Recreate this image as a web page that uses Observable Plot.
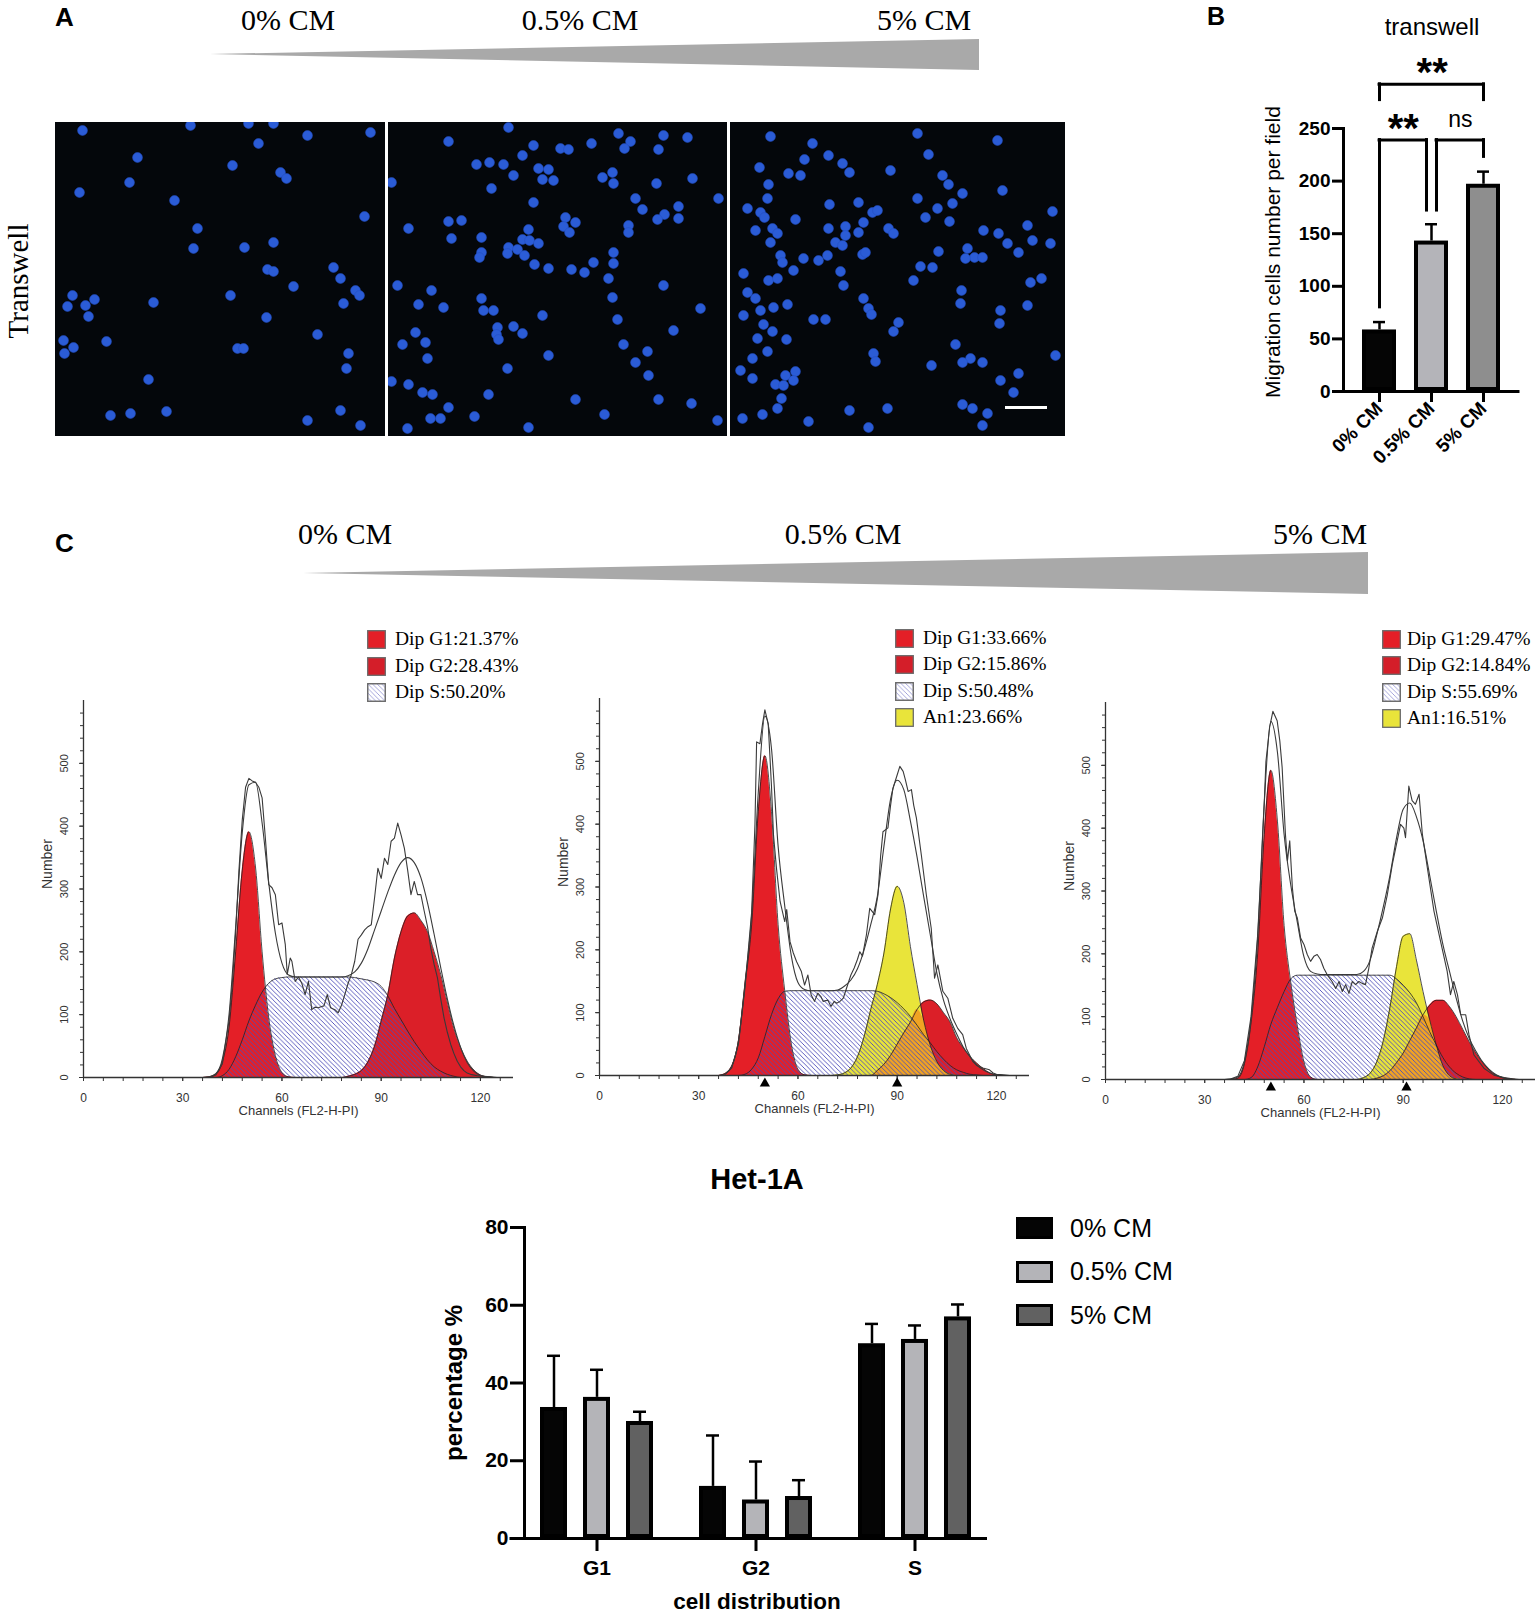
<!DOCTYPE html>
<html><head><meta charset="utf-8">
<script src="https://cdn.jsdelivr.net/npm/d3@7"></script>
<script src="https://cdn.jsdelivr.net/npm/@observablehq/plot@0.6"></script>
<style>
html,body{margin:0;padding:0;background:#fff;}
#fig{position:relative;width:1535px;height:1615px;overflow:hidden;background:#fff;}
.tri{position:absolute;background:#a9a9a9;}
</style></head><body>
<svg width="0" height="0" style="position:absolute">
<defs>
<pattern id="hatchS" patternUnits="userSpaceOnUse" width="4.6" height="4.6">
<path d="M-1,-1 L5.6,5.6 M-1,3.6 L1,5.6 M3.6,-1 L5.6,1" stroke="#4d4db8" stroke-width="0.9" fill="none"/>
</pattern>
</defs></svg>
<div id="fig"></div>
<script>
// ---------------- DATA ----------------
// Panel A: nucleus centroids in each transwell field (field units)
const cells0 = [[27,8],[135,3],[193,1],[218,1],[252,13],[315,10],[203,21],[82,35],[177,43],[225,50],[231,56],[74,60],[24,70],[119,78],[309,94],[142,106],[138,126],[189,125],[218,120],[212,147],[218,149],[278,145],[238,164],[285,156],[300,168],[304,173],[288,181],[175,173],[17,173],[12,184],[30,183],[39,177],[33,194],[98,180],[211,195],[262,212],[8,218],[18,225],[9,231],[51,219],[182,226],[188,226],[293,231],[291,246],[93,257],[55,293],[75,291],[111,289],[285,288],[252,298],[305,303]];
const cells05 = [[120,5],[60,19],[145,23],[172,26],[180,27],[203,21],[230,11],[242,19],[236,26],[275,13],[299,15],[270,27],[88,42],[101,40],[115,42],[134,33],[125,53],[150,46],[160,47],[154,57],[165,58],[224,50],[214,55],[225,61],[3,60],[103,66],[304,56],[268,61],[145,80],[247,76],[254,87],[290,84],[276,92],[290,96],[269,97],[60,99],[73,98],[20,106],[177,95],[187,100],[175,104],[181,110],[240,103],[240,110],[140,107],[134,117],[141,118],[63,116],[93,115],[150,121],[120,125],[129,127],[136,133],[119,131],[93,130],[91,135],[225,130],[225,141],[205,140],[146,142],[160,146],[183,147],[196,150],[220,156],[224,175],[275,163],[9,163],[43,168],[30,182],[55,185],[93,176],[95,188],[105,188],[154,193],[229,197],[312,186],[27,210],[109,205],[108,212],[125,204],[134,211],[110,217],[285,208],[14,222],[37,220],[235,222],[259,229],[39,236],[160,233],[247,240],[119,246],[260,253],[3,259],[20,262],[34,270],[44,272],[60,285],[100,272],[187,277],[270,277],[303,281],[42,296],[52,296],[86,294],[140,305],[216,292],[19,306],[330,76],[329,298]];
const cells5 = [[40,14],[82,21],[98,33],[74,37],[112,41],[119,50],[29,45],[58,51],[70,53],[187,11],[198,32],[160,48],[212,53],[218,62],[267,18],[272,68],[232,71],[38,62],[37,76],[17,86],[30,90],[34,95],[65,97],[187,76],[207,86],[222,81],[195,95],[219,99],[128,80],[142,90],[147,88],[99,82],[25,108],[42,106],[47,111],[40,120],[98,106],[115,104],[115,113],[105,120],[128,110],[133,100],[158,106],[163,111],[50,133],[52,140],[63,148],[73,136],[88,138],[97,133],[112,123],[132,132],[135,130],[110,149],[13,151],[38,158],[47,156],[17,170],[25,176],[113,163],[133,176],[208,129],[190,144],[202,145],[183,158],[237,126],[244,135],[252,135],[235,136],[253,108],[268,111],[277,121],[288,130],[297,103],[302,118],[300,160],[297,183],[231,168],[230,181],[270,188],[269,201],[13,193],[30,188],[43,185],[57,182],[33,202],[42,209],[27,216],[56,217],[37,229],[22,236],[83,197],[95,197],[138,186],[141,192],[168,200],[163,209],[143,231],[145,239],[10,248],[22,256],[45,262],[53,263],[65,249],[55,253],[63,258],[51,276],[47,286],[225,222],[240,236],[252,240],[232,240],[201,243],[270,258],[288,251],[283,270],[157,286],[119,288],[78,299],[138,305],[12,296],[32,292],[232,282],[242,286],[257,291],[252,303],[322,89],[320,121],[325,233],[311,156]];
const scaleBar = [{x1: 275, x2: 317, y: 285}];

// Panel B: transwell migration counts
const bCats = ["0% CM", "0.5% CM", "5% CM"];
const bMeans = [58.5, 143, 197];
const bErrUpper = [66, 159, 209];
const bYTicks = [0, 50, 100, 150, 200, 250];
const sigFrom = ["0% CM", "0% CM", "0.5% CM"];
const sigTo = ["5% CM", "0.5% CM", "5% CM"];
const sigLevel = [292, 239, 239];
const sigLegFrom = [277, 80, 172];
const sigLegTo = [277, 172, 223];
const sigText = ["**", "**", "ns"];

// Panel C: flow cytometry histograms (channel grid)
const histChannels = [36,38,40,42,44,46,48,50,52,54,56,58,60,62,64,66,68,70,72,74,76,78,80,82,84,86,88,90,92,94,96,98,100,102,104,106,108,110,112,114,116,118,120,122,124];
const h1G1 = [0,1,5,25,80,200,330,391,335,200,95,35,8,1,0,0,0,0,0,0,0,0,0,0,0,0,0,0,0,0,0,0,0,0,0,0,0,0,0,0,0,0,0,0,0];
const h1S  = [0,0,0,3,13,33,60,90,115,136,150,157,159,160,160,160,160,160,160,160,160,160,160,159,157,155,152,145,130,110,92,74,57,42,28,17,10,5,2,0,0,0,0,0,0];
const h1G2 = [0,0,0,0,0,0,0,0,0,0,0,0,0,0,0,0,0,0,0,0,0,0,2,5,11,25,50,90,132,190,232,257,262,250,232,200,164,120,78,48,26,12,4,1,0];
const h1Env = [0,1,6,30,100,240,390,466,470,405,310,230,182,163,160,160,160,160,160,160,160,160,162,168,182,205,235,265,295,322,342,350,342,318,278,228,175,125,82,48,24,10,3,1,0];
const h1Raw = [[38,0],[40,4],[42,22],[44,90],[45,150],[46,230],[47,330],[48,410],[49,462],[50,476],[51,472],[52,470],[53,462],[54,445],[55,380],[56,307],[57,302],[58,291],[59,243],[60,246],[61,212],[61.6,164],[62.5,190],[63,185],[64,153],[65,160],[66,150],[67,132],[68,153],[69,108],[70,112],[71,111],[72,113],[72.7,114],[73.7,132],[74.7,111],[76,108],[77,103],[78,115],[79,132],[80,150],[81,164],[82,185],[83,220],[84,227],[85,235],[86,240],[87,243],[88,286],[89,333],[90,317],[91,349],[92,339],[93,376],[94,381],[95,405],[96,386],[97,365],[98,330],[99,291],[100,312],[101,291],[102,291],[103,265],[104,240],[105,206],[106,180],[107,159],[108,125],[109,95],[110,72],[111,53],[112,38],[113,26],[114,17],[115,11],[116,7],[117,5],[119,3],[121,2],[123,1],[125,0]];

const h2G1 = [0,3,15,55,145,240,420,509,420,240,135,50,10,1,0,0,0,0,0,0,0,0,0,0,0,0,0,0,0,0,0,0,0,0,0,0,0,0,0,0,0,0,0,0,0];
const h2S  = [0,0,0,0,2,10,28,62,97,122,134,135,135,135,135,135,135,135,135,135,135,135,135,135,134,130,124,116,106,94,80,65,52,38,26,16,9,5,2,1,0,0,0,0,0];
const h2An = [0,0,0,0,0,0,0,0,0,0,0,0,0,0,0,0,0,0,1,4,12,30,62,105,145,195,265,301,275,205,145,88,48,22,8,2,0,0,0,0,0,0,0,0,0];
const h2G2 = [0,0,0,0,0,0,0,0,0,0,0,0,0,0,0,0,0,0,0,0,0,0,0,0,8,18,32,50,68,85,105,117,120,114,100,85,60,44,30,20,11,4,1,0,0];
const h2Env = [0,3,15,55,148,255,450,572,520,365,270,190,148,137,135,135,135,135,136,142,152,170,200,240,285,365,440,470,455,405,348,285,224,163,120,90,66,45,30,17,9,4,1,0,0];
const h2Raw = [[38,2],[40,12],[42,50],[44,140],[46,260],[47,400],[47.5,531],[48.5,528],[49.3,560],[50,582],[51,560],[52,460],[52.6,383],[53.5,330],[54.6,277],[56,245],[56.6,264],[57.6,213],[58.6,195],[59.6,181],[61,166],[62,144],[63,160],[64,128],[65,118],[66,131],[67,125],[67.6,118],[69,120],[70,110],[71,118],[71.7,115],[72.7,118],[73.7,123],[75,144],[76,160],[77,171],[78,185],[78.7,197],[79.5,190],[80.7,224],[81.7,266],[83.2,256],[84.2,288],[85,350],[85.7,388],[87.2,394],[88,430],[88.7,457],[89.8,475],[90.8,492],[91.8,484],[92.5,470],[93.3,452],[94.3,455],[95,430],[95.8,410],[97.3,351],[98.8,288],[100.3,234],[101.3,155],[102.3,176],[103.8,134],[105.3,123],[106.8,91],[108.3,75],[109.8,65],[110.9,43],[112.9,22],[114,16],[115.9,12],[117.9,9],[119,4],[120,2],[122,1],[124,0]];

const h3G1 = [0,0,2,25,90,200,390,492,410,245,155,85,28,4,0,0,0,0,0,0,0,0,0,0,0,0,0,0,0,0,0,0,0,0,0,0,0,0,0,0,0,0,0,0,0];
const h3S  = [0,0,0,0,3,20,52,88,115,140,160,166,166,166,166,166,166,166,166,166,166,166,166,166,166,166,160,150,138,122,100,76,55,35,20,10,4,1,0,0,0,0,0,0,0];
const h3An = [0,0,0,0,0,0,0,0,0,0,0,0,0,0,0,0,0,0,0,0,0,3,10,28,62,115,180,228,232,190,140,95,55,22,6,1,0,0,0,0,0,0,0,0,0];
const h3G2 = [0,0,0,0,0,0,0,0,0,0,0,0,0,0,0,0,0,0,0,0,0,0,0,2,6,14,27,42,62,82,103,118,126,126,116,100,80,60,42,27,15,7,3,1,0];
const h3Env = [0,1,4,28,95,225,440,570,520,390,310,250,195,172,168,167,167,167,167,167,167,172,190,230,275,325,385,430,440,418,380,325,268,215,172,130,93,65,45,28,16,8,3,1,0];
const h3Raw = [[38,1],[40,5],[42,30],[44,100],[46,230],[47,330],[48,440],[48.5,506],[49,530],[49.6,560],[50.6,586],[51.9,571],[52.7,539],[53.4,497],[54.4,390],[55,348],[55.7,380],[56.5,305],[57.2,268],[58,257],[59,225],[60,215],[61,199],[62,188],[63,196],[64,199],[65,191],[66,177],[67,167],[68.5,156],[69.6,145],[70.6,156],[71.6,140],[72.6,151],[73.6,137],[74.6,156],[75.6,151],[76.6,156],[77.6,153],[78.6,151],[79.6,177],[80.6,209],[82.2,236],[83.7,257],[85.2,294],[86.7,342],[88.2,380],[89.2,406],[90.2,400],[90.7,385],[91.7,467],[92.7,444],[93.7,438],[94.8,454],[95.8,390],[97.3,337],[99.3,268],[101.3,220],[103.3,172],[104.3,135],[105.3,156],[106.4,135],[107.4,103],[108.9,103],[109.9,71],[111.4,39],[114.4,18],[117.4,7],[120.5,3],[123,1],[125,0]];
const h2Peaks = [50, 90];
const h3Peaks = [50, 91];
const h1Legend = ["Dip G1:21.37%", "Dip G2:28.43%", "Dip S:50.20%"];
const h2Legend = ["Dip G1:33.66%", "Dip G2:15.86%", "Dip S:50.48%", "An1:23.66%"];
const h3Legend = ["Dip G1:29.47%", "Dip G2:14.84%", "Dip S:55.69%", "An1:16.51%"];
const histYTicks = [0, 100, 200, 300, 400, 500];
const histXTicks = [0, 30, 60, 90, 120];

// Het-1A cell-cycle distribution
const phases = ["G1", "G2", "S"];
const conditions = ["0% CM", "0.5% CM", "5% CM"];
const mean0 = [33.7, 13.4, 50.1];
const mean05 = [36.3, 9.9, 51.2];
const mean5 = [30.1, 10.8, 57.0];
const err0 = [47.0, 26.5, 55.2];
const err05 = [43.4, 19.8, 54.8];
const err5 = [32.6, 15.0, 60.2];
const pctTicks = [0, 20, 40, 60, 80];

// ---------------- HELPERS ----------------
const SANS = '"Liberation Sans", Arial, Helvetica, sans-serif';
const SERIF = '"Liberation Serif", "Times New Roman", Times, serif';
const fig = document.getElementById("fig");
function place(el, left, top) {
  el.style.position = "absolute";
  el.style.left = left + "px";
  el.style.top = top + "px";
  fig.appendChild(el);
  return el;
}
function label(s, x, y, o = {}) {
  const d = document.createElement("div");
  const size = o.size || 16;
  d.textContent = s;
  d.style.cssText = `position:absolute;white-space:nowrap;line-height:${o.lh || 1};font-size:${size}px;font-family:${o.family || SANS};font-weight:${o.weight || "normal"};color:${o.color || "#000"};`;
  d.style.left = x + "px";
  if (o.rotate) {
    d.style.top = y + "px";
    d.style.transform = `translate(-50%,-50%) rotate(${o.rotate}deg)`;
  } else {
    const asc = (o.family === SERIF ? 0.84 : 0.85) * size - (1 - (o.lh || 1)) * size / 2;
    d.style.top = (y - asc) + "px";
    const tx = o.anchor === "middle" ? "-50%" : o.anchor === "end" ? "-100%" : "0";
    d.style.transform = `translateX(${tx})`;
  }
  fig.appendChild(d);
  return d;
}
function triangle(left, top, w, h, tipY) {
  const d = document.createElement("div");
  d.className = "tri";
  d.style.width = w + "px"; d.style.height = h + "px";
  d.style.clipPath = `polygon(0px ${tipY}px, ${w}px 0px, ${w}px ${h}px)`;
  return place(d, left, top);
}

// ---------------- PANEL A ----------------
label("A", 55, 26, {size: 26, weight: "bold"});
label("0% CM", 288, 30, {size: 30, family: SERIF, anchor: "middle"});
label("0.5% CM", 580, 30, {size: 30, family: SERIF, anchor: "middle"});
label("5% CM", 924, 30, {size: 30, family: SERIF, anchor: "middle"});
triangle(210, 39, 769, 31, 15);
label("Transwell", 18, 281, {size: 29, family: SERIF, rotate: -90, lh: 0.9});

function field(cells, w, h, extra = []) {
  return Plot.plot({
    width: w, height: h, margin: 0,
    style: {background: "#04070b", overflow: "hidden"},
    x: {domain: [0, w], axis: null},
    y: {domain: [0, h], reverse: true, axis: null},
    marks: [
      Plot.dot(cells, {x: d => d[0], y: d => d[1], r: 4.9, fill: "#2b5cd6", stroke: "#234fc2", strokeWidth: 0.6}),
      ...extra
    ]
  });
}
place(field(cells0, 330, 314), 55, 122);
place(field(cells05, 339, 314), 388, 122);
place(field(cells5, 335, 314, [Plot.ruleY(scaleBar, {y: "y", x1: "x1", x2: "x2", stroke: "#fff", strokeWidth: 3})]), 730, 122);

// ---------------- PANEL B ----------------
label("B", 1207, 25, {size: 25, weight: "bold"});
label("transwell", 1432, 35, {size: 24, anchor: "middle"});
label("Migration cells number per field", 1272, 252, {size: 21, rotate: -90});
{
  const bData = bCats.map((c, i) => ({cat: c, mean: bMeans[i], err: bErrUpper[i]}));
  const mL = 100, mR = 15.5, W = 292, pad = 0.352;
  const frameW = W - mL - mR;
  const step = frameW / (bCats.length - pad + 2 * pad);
  const half = step * (1 - pad) / 2;
  const gap = 5;
  const bracketMarks = [];
  sigText.forEach((t, i) => {
    const a = bCats.indexOf(sigFrom[i]), b = bCats.indexOf(sigTo[i]);
    const offFrom = sigFrom[i] === "0.5% CM" ? gap : 0;
    const offTo = sigTo[i] === "0.5% CM" ? -gap : 0;
    const row = {from: sigFrom[i], to: sigTo[i], level: sigLevel[i], lo1: sigLegFrom[i], lo2: sigLegTo[i], t};
    bracketMarks.push(
      Plot.ruleY([row], {x1: "from", x2: "to", y: "level", strokeWidth: 3, strokeLinecap: "square", insetLeft: half + offFrom, insetRight: half - offTo}),
      Plot.ruleX([row], {x: "from", y1: "lo1", y2: "level", strokeWidth: 3, strokeLinecap: "square", dx: offFrom}),
      Plot.ruleX([row], {x: "to", y1: "lo2", y2: "level", strokeWidth: 3, strokeLinecap: "square", dx: offTo}),
      Plot.text([row], {x: "from", y: "level", text: "t", lineAnchor: "bottom",
        dx: ((b - a) * step + offTo - offFrom) / 2 + offFrom,
        dy: t === "ns" ? -13 : 2,
        fontSize: t === "ns" ? 23 : 40, fontWeight: t === "ns" ? "normal" : "bold"})
    );
  });
  const bPlot = Plot.plot({
    width: W, height: 470, marginLeft: mL, marginRight: mR, marginTop: 128, marginBottom: 79,
    style: {fontFamily: SANS, overflow: "visible", background: "transparent"},
    x: {domain: bCats, padding: pad, axis: null},
    y: {domain: [0, 250], axis: null},
    color: {domain: bCats, range: ["#050505", "#b4b4b9", "#8e8e8e"]},
    marks: [
      Plot.barY(bData, {x: "cat", y1: () => 0, y2: "mean", fill: "cat", stroke: "#000", strokeWidth: 4, inset: 2}),
      Plot.ruleX(bData, {x: "cat", y1: "mean", y2: "err", strokeWidth: 2.5}),
      Plot.tickY(bData, {x: "cat", y: "err", strokeWidth: 2.5, inset: 11}),
      Plot.ruleY([0], {strokeWidth: 3}),
      Plot.frame({anchor: "left", strokeWidth: 3}),
      Plot.axisY({ticks: bYTicks, tickSize: 11, tickPadding: 2, strokeWidth: 3, fontSize: 19, fontWeight: "bold", label: null}),
      Plot.axisX({tickSize: 11, tickPadding: 3, strokeWidth: 3, tickRotate: -45, fontSize: 19, fontWeight: "bold", label: null}),
      ...bracketMarks
    ]
  });
  place(bPlot, 1343 - mL, 0);
}

// ---------------- PANEL C ----------------
label("C", 55, 552, {size: 26, weight: "bold"});
label("0% CM", 345, 544, {size: 30, family: SERIF, anchor: "middle"});
label("0.5% CM", 843, 544, {size: 30, family: SERIF, anchor: "middle"});
label("5% CM", 1320, 544, {size: 30, family: SERIF, anchor: "middle"});
triangle(303, 552, 1065, 42, 21);

const RED1 = "#e41f27", RED2 = "#db1f28", YEL = "#e9e43a", ORG = "#f0a323", AX = "#333";
function histogram(g1, s, g2, an, env, raw, peaks) {
  const rows = histChannels.map((c, i) => ({ch: c, g1: g1[i], s: s[i], g2: g2[i], an: an ? an[i] : 0, env: env[i]}));
  const cv = "monotone-x";
  const marks = [
    Plot.areaY(rows, {x: "ch", y: "g1", fill: RED1, curve: cv}),
    Plot.areaY(rows, {x: "ch", y: "g2", fill: RED2, curve: cv})
  ];
  if (an) {
    marks.push(Plot.areaY(rows, {x: "ch", y: "an", fill: YEL, curve: cv}));
    marks.push(Plot.areaY(rows, {x: "ch", y: d => Math.min(d.an, d.g2), fill: ORG, curve: cv}));
  }
  marks.push(Plot.areaY(rows, {x: "ch", y: "s", fill: "url(#hatchS)", curve: cv}));
  for (const k of (an ? ["g1", "g2", "an", "s"] : ["g1", "g2", "s"]))
    marks.push(Plot.lineY(rows, {x: "ch", y: k, stroke: "#222", strokeWidth: 0.8, curve: cv}));
  marks.push(Plot.lineY(rows, {x: "ch", y: "env", stroke: "#3a3a3a", strokeWidth: 1.1, curve: cv}));
  marks.push(Plot.lineY(raw, {x: d => d[0], y: d => d[1], stroke: "#3a3a3a", strokeWidth: 1.1}));
  marks.push(
    Plot.ruleX([0], {stroke: AX, strokeWidth: 1.3}),
    Plot.ruleY([0], {stroke: AX, strokeWidth: 1.3}),
    Plot.axisY({ticks: d3.range(0, 600, 20), tickSize: 3, tickFormat: () => "", color: AX, label: null}),
    Plot.axisY({ticks: histYTicks, tickSize: 4, tickRotate: -90, tickPadding: 12, fontSize: 11, color: AX, label: null}),
    Plot.axisX({ticks: d3.range(0, 130, 6), tickSize: 4, tickFormat: () => "", color: AX, label: null}),
    Plot.axisX({ticks: histXTicks, tickSize: 4, tickPadding: 12, fontSize: 12, color: AX, label: null}),
    Plot.text(["Number"], {text: d => d, frameAnchor: "left", dx: -36, rotate: -90, fontSize: 14, fill: AX}),
    Plot.text(["Channels (FL2-H-PI)"], {text: d => d, frameAnchor: "bottom", dy: 37, fontSize: 13, fill: AX})
  );
  if (peaks) marks.push(Plot.dot(peaks, {x: d => d, y: () => 0, symbol: "triangle", fill: "#000", r: 3.8, dy: 8}));
  return Plot.plot({
    width: 500, height: 437, marginLeft: 60, marginRight: 10, marginTop: 10, marginBottom: 50,
    style: {fontFamily: SANS, overflow: "visible", background: "transparent"},
    x: {domain: [0, 130], axis: null},
    y: {domain: [0, 600], axis: null},
    marks
  });
}
place(histogram(h1G1, h1S, h1G2, null, h1Env, h1Raw, null), 83 - 60, 700 - 10);
place(histogram(h2G1, h2S, h2G2, h2An, h2Env, h2Raw, h2Peaks), 599 - 60, 698 - 10);
place(histogram(h3G1, h3S, h3G2, h3An, h3Env, h3Raw, h3Peaks), 1105 - 60, 702 - 10);

const swatchFill = {G1: RED1, G2: "#d41e29", S: "hatch", An: YEL};
function histLegend(items, boxX, textX, top0) {
  items.forEach((lab, i) => {
    const top = top0 + i * 26.5;
    const key = lab.startsWith("An") ? "An" : lab.slice(4, 6).replace(":", "");
    const f = swatchFill[key];
    const ns = "http://www.w3.org/2000/svg";
    const sv = document.createElementNS(ns, "svg");
    sv.setAttribute("width", 19); sv.setAttribute("height", 19);
    const r = document.createElementNS(ns, "rect");
    r.setAttribute("x", 0.7); r.setAttribute("y", 0.7); r.setAttribute("width", 17.6); r.setAttribute("height", 17.6);
    r.setAttribute("fill", f === "hatch" ? "#fff" : f);
    r.setAttribute("stroke", "#6a6a6a"); r.setAttribute("stroke-width", 1.3);
    sv.appendChild(r);
    if (f === "hatch") {
      const r2 = r.cloneNode();
      r2.setAttribute("fill", "url(#hatchS)"); r2.setAttribute("opacity", 0.55);
      sv.appendChild(r2);
    }
    place(sv, boxX, top);
    label(lab, textX, top + 15.5, {size: 19.5, family: SERIF});
  });
}
histLegend(h1Legend, 367, 395, 630);
histLegend(h2Legend, 895, 923, 628.5);
histLegend(h3Legend, 1382, 1407, 629.5);

// ---------------- Het-1A grouped bars ----------------
label("Het-1A", 757, 1190, {size: 29, weight: "bold", anchor: "middle"});
label("percentage %", 454, 1383, {size: 24, weight: "bold", rotate: -90});
label("cell distribution", 757, 1609.5, {size: 22.5, weight: "bold", anchor: "middle", lh: 0.8});
{
  const means = [mean0, mean05, mean5], errs = [err0, err05, err5];
  const rows = [];
  phases.forEach((p, pi) => conditions.forEach((c, ci) => rows.push({phase: p, cond: c, mean: means[ci][pi], err: errs[ci][pi]})));
  const colors = ["#050505", "#b4b4b8", "#616161"];
  const pl = Plot.plot({
    width: 589, height: 415, marginLeft: 110, marginRight: 15, marginTop: 27, marginBottom: 77,
    style: {fontFamily: SANS, overflow: "visible", background: "transparent"},
    fx: {domain: phases, paddingInner: 0.091, paddingOuter: 0, axis: null, label: null},
    x: {domain: conditions, paddingInner: 0.364, paddingOuter: 0.33, axis: null},
    y: {domain: [0, 80], axis: null},
    color: {domain: conditions, range: colors},
    marks: [
      Plot.barY(rows, {fx: "phase", x: "cond", y1: () => 0, y2: "mean", fill: "cond", stroke: "#000", strokeWidth: 4, inset: 2}),
      Plot.ruleX(rows, {fx: "phase", x: "cond", y1: "mean", y2: "err", strokeWidth: 2.5}),
      Plot.tickY(rows, {fx: "phase", x: "cond", y: "err", strokeWidth: 2.5, inset: 7}),
      Plot.ruleY([0], {strokeWidth: 3, insetLeft: -14.5, insetRight: 0}),
      Plot.frame({anchor: "left", fx: "G1", strokeWidth: 3}),
      Plot.axisY({ticks: pctTicks, tickSize: 14, tickPadding: 2, strokeWidth: 3, fontSize: 21, fontWeight: "bold", label: null}),
      Plot.axisFx({anchor: "bottom", tickSize: 13, tickPadding: 9, strokeWidth: 3, fontSize: 21, fontWeight: "bold", label: null})
    ]
  });
  place(pl, 523 - 110, 1200);
  // legend
  conditions.forEach((c, i) => {
    const top = 1217 + i * 43.5;
    const box = document.createElement("div");
    box.style.cssText = `width:37px;height:22px;box-sizing:border-box;border:3px solid #000;background:${colors[i]};`;
    place(box, 1016, top);
    label(c, 1070, top + 11 + 9, {size: 25});
  });
}
</script>
</body></html>
